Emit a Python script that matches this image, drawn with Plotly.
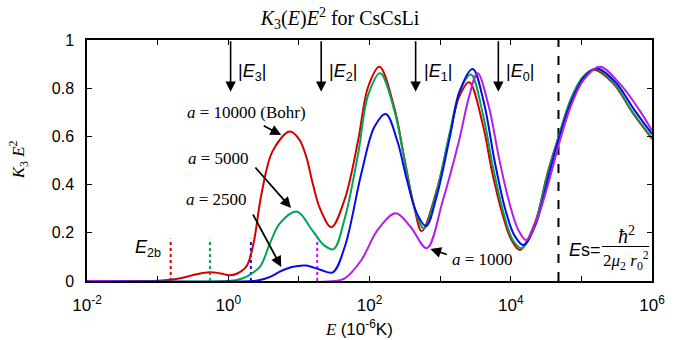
import numpy as np
import plotly.graph_objects as go

# ---- data (log10 of E in 1e-6 K, and K3*E^2) ----
red_logE = [-2.0, -1.5, -1.2, -1.0, -0.8, -0.6, -0.45, -0.27, -0.1, 0.01, 0.12, 0.26, 0.36, 0.47, 0.63, 0.87, 1.0, 1.1, 1.2, 1.3, 1.46,
            1.65, 1.84, 1.98, 2.14, 2.35, 2.49, 2.63, 2.74, 2.95, 3.14, 3.27, 3.41, 3.6, 3.74, 3.88, 4.01, 4.13, 4.34, 4.52, 4.68,
            4.85, 5.03, 5.19, 5.45, 5.73, 6.0]
red_val = [0, 0, 0.0, 0.001, 0.006, 0.017, 0.028, 0.036, 0.031, 0.024, 0.030, 0.062, 0.16, 0.36, 0.54, 0.62, 0.59, 0.52, 0.40, 0.30, 0.223,
           0.34, 0.585, 0.805, 0.889, 0.72, 0.515, 0.31, 0.207, 0.375, 0.613, 0.765, 0.825, 0.655, 0.447, 0.28, 0.17, 0.129, 0.239, 0.447, 0.6,
           0.75, 0.848, 0.876, 0.82, 0.696, 0.59]

green_logE = [-2.0, 0.0, 0.12, 0.26, 0.45, 0.59, 0.73, 0.97, 1.19, 1.35, 1.49, 1.65, 1.84, 1.98, 2.15, 2.35, 2.49, 2.63, 2.77, 2.95,
              3.14, 3.28, 3.435, 3.6, 3.75, 3.9, 4.03, 4.15, 4.34, 4.52, 4.68, 4.85, 5.03, 5.2, 5.45, 5.73, 6.0]
green_val = [0, 0, 0.004, 0.018, 0.06, 0.156, 0.239, 0.288, 0.21, 0.15, 0.132, 0.26, 0.53, 0.77, 0.862, 0.71, 0.51, 0.31, 0.218, 0.37,
             0.62, 0.79, 0.857, 0.70, 0.47, 0.28, 0.17, 0.136, 0.235, 0.44, 0.60, 0.755, 0.85, 0.88, 0.825, 0.70, 0.594]

blue_logE = [-2.0, 0.35, 0.45, 0.6, 0.73, 0.9, 1.1, 1.3, 1.48, 1.65, 1.885, 2.07, 2.23, 2.39, 2.53, 2.67, 2.80, 2.95, 3.14, 3.28,
             3.46, 3.62, 3.77, 3.92, 4.05, 4.18, 4.36, 4.54, 4.69, 4.87, 5.05, 5.22, 5.47, 5.75, 6.0]
blue_val = [0, 0, 0.004, 0.018, 0.039, 0.058, 0.064, 0.047, 0.036, 0.142, 0.447, 0.64, 0.693, 0.585, 0.419, 0.281, 0.228, 0.35, 0.60, 0.79,
            0.88, 0.74, 0.50, 0.30, 0.19, 0.149, 0.24, 0.44, 0.60, 0.755, 0.85, 0.882, 0.83, 0.71, 0.61]

purple_logE = [-2.0, 1.5, 1.65, 1.885, 2.116, 2.37, 2.58, 2.81, 3.04, 3.27, 3.41, 3.53, 3.69, 3.83, 3.97, 4.107, 4.22, 4.385, 4.546,
               4.685, 4.847, 5.03, 5.26, 5.54, 5.82, 6.0]
purple_val = [0, 0, 0.011, 0.087, 0.212, 0.281, 0.225, 0.136, 0.336, 0.585, 0.765, 0.862, 0.723, 0.516, 0.336, 0.212, 0.17, 0.267, 0.419,
              0.571, 0.723, 0.834, 0.889, 0.82, 0.71, 0.624]

series_names = ["a=10000", "a=5000", "a=2500", "a=1000"]
series_colors = ["#d40000", "#00a550", "#0a0ae6", "#b41ee6"]

# Efimov levels |E_n| (arrows), E_2b per curve (dotted), Es (dashed)
level_names = ["3", "2", "1", "0"]
level_E = [1.08, 20.7, 450.0, 6670.0]
e2b_E = [0.153, 0.55, 2.09, 18.2]
e2b_height = 0.175
Es_E = 47400.0

x_ticks = [1e-2, 1e-1, 1e0, 1e1, 1e2, 1e3, 1e4, 1e5, 1e6]
x_ticktext = ["10<sup>-2</sup>", "", "10<sup>0</sup>", "", "10<sup>2</sup>", "", "10<sup>4</sup>", "", "10<sup>6</sup>"]

# ---- layout geometry ----
W, H = 677, 340
L, R, T, B = 87, 663, 40, 281


def px(xp, yp):
    return (xp - L) / (R - L), (B - yp) / (B - T)


fig = go.Figure()

# E_2b dotted lines
for e, c in zip(e2b_E, series_colors):
    fig.add_trace(go.Scatter(x=[e, e], y=[0, e2b_height], mode="lines",
                             line=dict(color=c, width=2, dash="dot"), showlegend=False, hoverinfo="skip"))

# Es dashed line
fig.add_trace(go.Scatter(x=[Es_E, Es_E], y=[0, 1], mode="lines",
                         line=dict(color="black", width=2, dash="dash"), showlegend=False, hoverinfo="skip"))

for lx, ly, name, c in [(red_logE, red_val, series_names[0], series_colors[0]),
                        (green_logE, green_val, series_names[1], series_colors[1]),
                        (blue_logE, blue_val, series_names[2], series_colors[2]),
                        (purple_logE, purple_val, series_names[3], series_colors[3])]:
    fig.add_trace(go.Scatter(x=10 ** np.array(lx), y=ly, mode="lines", name=name,
                             line=dict(color=c, width=2, shape="spline", smoothing=1.0),
                             showlegend=False))

serif = "Liberation Serif, Times New Roman, serif"
sans = "Liberation Sans, Arial, sans-serif"

annotations = []

# level arrows
for e, n in zip(level_E, level_names):
    annotations.append(dict(x=np.log10(e), y=0.785, xref="x", yref="y", text="", showarrow=True,
                            ax=0, ay=-52, arrowhead=2, arrowsize=1.3, arrowwidth=1.6, arrowcolor="black"))
    xp0 = L + (np.log10(e) + 2) / 8 * (R - L)
    xx, yy = px(xp0 + 6, 72)
    annotations.append(dict(x=xx, y=yy, xref="paper", yref="paper", xanchor="left", yanchor="middle",
                            text="|<i>E</i><sub>%s</sub>|" % n, showarrow=False,
                            font=dict(family=sans, size=18, color="black")))


def txt(xp, yp, text, family=serif, size=17, xanchor="center", angle=0):
    xx, yy = px(xp, yp)
    annotations.append(dict(x=xx, y=yy, xref="paper", yref="paper", xanchor=xanchor, yanchor="middle",
                            text=text, showarrow=False, textangle=angle,
                            font=dict(family=family, size=size, color="black")))


def arrow(x_tip_px, y_tip_px, ax, ay):
    xx, yy = px(x_tip_px, y_tip_px)
    annotations.append(dict(x=xx, y=yy, xref="paper", yref="paper", text="", showarrow=True,
                            ax=ax, ay=ay, arrowhead=2, arrowsize=1.2, arrowwidth=1.8, arrowcolor="black"))


txt(250, 112, "<i>a</i> = 10000 (Bohr)")
arrow(285, 135, -19, -10)
txt(221, 158, "<i>a</i> = 5000")
arrow(295, 208, -37, -42)
txt(219, 199, "<i>a</i> = 2500")
arrow(285, 267, -29, -54)
txt(490, 259, "<i>a</i> = 1000")
arrow(437, 249, 18, 6)

txt(134, 248, "<i>E</i><sub>2b</sub>", family=sans, size=18, xanchor="left")

# Es label
txt(576, 250, "<i>E</i>s=", family=sans, size=18, xanchor="left")
txt(637, 235, "<i>ħ</i><sup>2</sup>", size=20)
txt(636, 260, "2<i>μ</i><sub>2</sub> <i>r</i><sub>0</sub><sup>2</sup>", size=17)

# axis titles
txt(17, 160, "<i>K</i><sub>3</sub> <i>E</i><sup>2</sup>", size=17, angle=-90)
txt(364, 328, "<i>E</i> <span style=\"font-family:Liberation Sans\">(10<sup>-6</sup>K)</span>", size=17)

shapes = [dict(type="line", xref="paper", yref="paper",
               x0=px(612, 0)[0], x1=px(660, 0)[0], y0=px(0, 246.5)[1], y1=px(0, 246.5)[1],
               line=dict(color="black", width=1.2))]

fig.update_layout(
    width=W, height=H,
    margin=dict(l=L, r=W - R, t=T, b=H - B),
    paper_bgcolor="white", plot_bgcolor="white",
    title=dict(text="<i>K</i><sub>3</sub>(<i>E</i>)<i>E</i><sup>2</sup> for CsCsLi", x=340 / W, xanchor="center",
               y=1 - 18 / H, yanchor="middle", font=dict(family=serif, size=20, color="black")),
    annotations=annotations,
    shapes=shapes,
    showlegend=False,
)

fig.update_xaxes(type="log", range=[-2, 6], tickvals=x_ticks, ticktext=x_ticktext,
                 ticks="inside", ticklen=5, tickwidth=1, tickcolor="black", ticklabelstandoff=8,
                 showline=True, linecolor="black", linewidth=1.5, mirror="ticks",
                 showgrid=False, zeroline=False,
                 tickfont=dict(family=sans, size=17, color="black"))
fig.update_yaxes(range=[0, 1], tickvals=[0, 0.2, 0.4, 0.6, 0.8, 1], ticktext=["0", "0.2", "0.4", "0.6", "0.8", "1"],
                 ticks="inside", ticklen=5, tickwidth=1, tickcolor="black", ticklabelstandoff=8,
                 showline=True, linecolor="black", linewidth=1.5, mirror="ticks",
                 showgrid=False, zeroline=False,
                 tickfont=dict(family=sans, size=16, color="black"))

fig.write_html("out.html")
